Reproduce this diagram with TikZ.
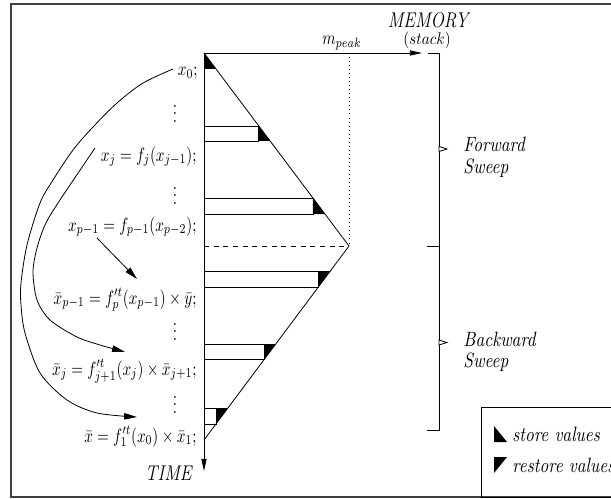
\documentclass[tikz,border=0pt]{standalone}
\usepackage{graphicx}
\usetikzlibrary{arrows.meta}
\newcommand{\vst}[1]{\scalebox{1}[1.2]{#1}}
\newcommand{\mth}[1]{\scalebox{0.94}[1.2]{$#1$}}
\begin{document}
\begin{tikzpicture}[x=0.62pt,y=-0.62pt,line width=0.5pt,
  lbl/.style={anchor=base east,inner sep=0pt},
  ital/.style={font=\fontsize{10.7}{13}\selectfont\itshape,inner sep=0pt},
  bigital/.style={font=\fontsize{11}{13}\selectfont\itshape,inner sep=0pt},
  axarrow/.style={-{Triangle[length=7.5pt,width=3.2pt]}},
  curvarrow/.style={-{Triangle[length=8pt,width=4pt]}},
  ink/.style={fill=black},
  boxfill/.style={draw,fill=white},
  vdot/.style={inner sep=0pt}]
\useasboundingbox (0,0) rectangle (611,499);
\clip (0,0) rectangle (611,499);
% outer frame
\draw[line width=0.8pt,black!75] (11,4) rectangle (660,497);

% key coordinates
\coordinate (O) at (204,53);
\coordinate (P) at (349,246);
\coordinate (E) at (204,440);
\coordinate (memtip) at (422,53);
\coordinate (timetip) at (204,471);

% forward boxes (store)
\draw (204,68) -- (215.3,68);
\fill[ink] (204,53) -- (204,68) -- (215.3,68) -- cycle;
\draw[boxfill] (204,126) rectangle (258.8,141);
\fill[ink] (258.8,126) -- (258.8,141) -- (270.1,141) -- cycle;
\draw[boxfill] (204,198) rectangle (312.9,214);
\fill[ink] (312.9,198) -- (312.9,214) -- (325,214) -- cycle;
% backward boxes (restore)
\draw[boxfill] (204,271) rectangle (318.4,287);
\fill[ink] (318.4,271) -- (330.3,271) -- (318.4,287) -- cycle;
\draw[boxfill] (204,344) rectangle (264.5,359);
\fill[ink] (264.5,344) -- (275.8,344) -- (264.5,359) -- cycle;
\draw[boxfill] (204,408) rectangle (216,424);
\fill[ink] (216,408) -- (227.9,408) -- (216,424) -- cycle;

% triangle outline
\draw (O) -- (P) -- (E);
\draw[dashed] (204,246) -- (P);
\draw[dotted] (349,53) -- (P);

% axes
\draw[axarrow] (O) -- (memtip);
\draw[axarrow] (O) -- (timetip);

% axis labels
\node[bigital,anchor=base] (mem) at (428,28) {\vst{MEMORY}};
\node[inner sep=0pt,anchor=base] (stack) at (427,45) {\scalebox{0.94}[1.05]{$(stack)$}};
\node[inner sep=0pt,anchor=base] (mpeak) at (342,45) {\mth{m_{peak}}};
\node[bigital,anchor=base east] (time) at (192,480) {\vst{TIME}};

% bracket
\draw (428,53) -- (439,53) -- (439,430) -- (427,430);
\draw (427,246) -- (439,246);
\draw[fill=white] (439,146.5) -- (447,149) -- (439,151.5) -- cycle;
\draw[fill=white] (439,340) -- (447,342.5) -- (439,345) -- cycle;
\node[ital,anchor=base west] (fw) at (463,152) {\vst{Forward}};
\node[ital,anchor=base west] (fws) at (463,173) {\vst{Sweep}};
\node[ital,anchor=base west] (bw) at (463,346) {\vst{Backward}};
\node[ital,anchor=base west] (bws) at (463,367) {\vst{Sweep}};

% statements
\node[lbl] (s0) at (198,76) {\mth{x_0;}};
\node[vdot] (d1) at (175,108) {\mth{\vdots}};
\node[lbl] (s1) at (197,161) {\mth{x_j = f_j(x_{j-1});}};
\node[vdot] (d2) at (175,190) {\mth{\vdots}};
\node[lbl] (s2) at (197,231) {\mth{x_{p-1} = f_{p-1}(x_{p-2});}};
\node[lbl] (s3) at (197,304) {\mth{\bar{x}_{p-1} = f_p^{\prime t}(x_{p-1}) \times \bar{y};}};
\node[vdot] (d3) at (175,326) {\mth{\vdots}};
\node[lbl] (s4) at (197,375) {\mth{\bar{x}_j = f_{j+1}^{\prime t}(x_j) \times \bar{x}_{j+1};}};
\node[vdot] (d4) at (175,399) {\mth{\vdots}};
\node[lbl] (s5) at (197,442) {\mth{\bar{x} = f_1^{\prime t}(x_0) \times \bar{x}_1;}};

% connectors
\coordinate (a1s) at (97,238);
\coordinate (a1e) at (137,279);
\draw[curvarrow] (a1s) -- (a1e);
\coordinate (a2s) at (95,148);
\coordinate (a2e) at (125,352);
\draw[curvarrow] plot[smooth,tension=0.5] coordinates {(a2s) (58,203) (45,225) (37,248) (33,272) (37,300) (50,320) (77,337) (100,345) (a2e)};
\coordinate (a3s) at (173,69);
\coordinate (a3e) at (137,417);
\draw[curvarrow] plot[smooth,tension=0.5] coordinates {(a3s) (143,83) (117,103) (93,127) (73,150) (53,180) (40,203) (27,245) (21,283) (21,305) (25,333) (40,373) (67,400) (97,413) (a3e)};

% legend
\draw (481,407) rectangle (660,497);
\fill[ink] (494,426) -- (494,442) -- (507,442) -- cycle;
\node[ital,anchor=base west] (lst) at (512,441) {\vst{store values}};
\fill[ink] (494,457) -- (507,457) -- (494,473) -- cycle;
\node[ital,anchor=base west] (lrs) at (512,472) {\vst{restore values}};
\end{tikzpicture}
\end{document}
